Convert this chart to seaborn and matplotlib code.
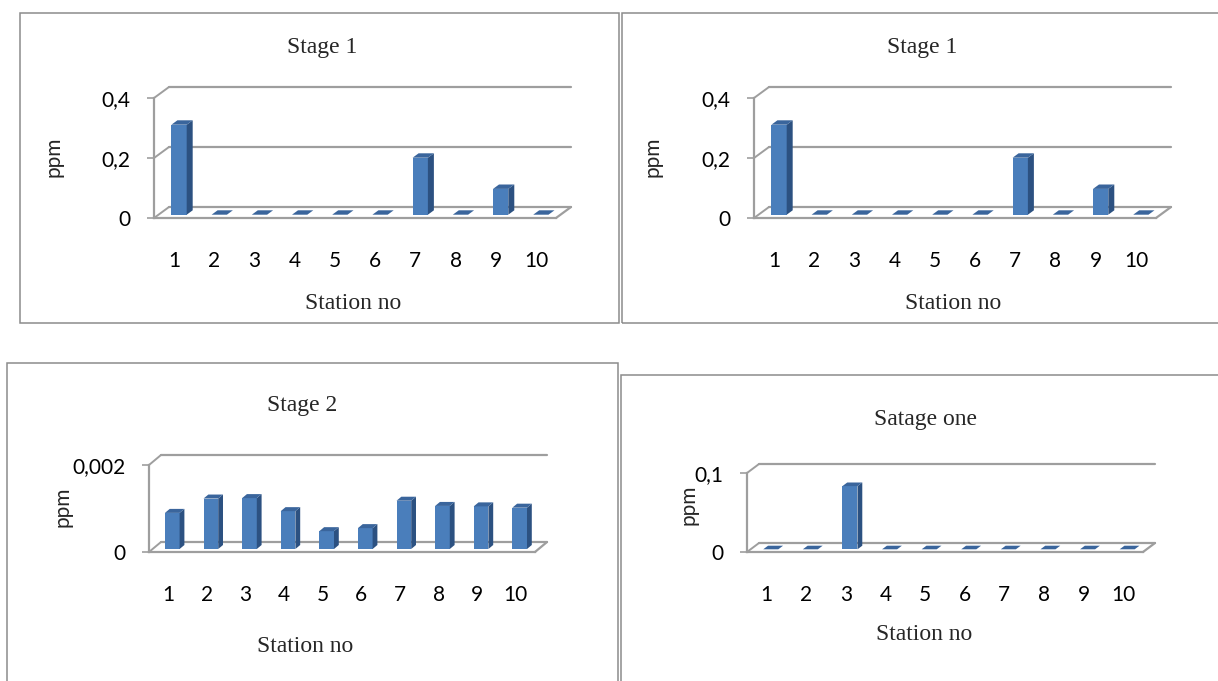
import matplotlib
matplotlib.use("Agg")
import matplotlib.pyplot as plt
from matplotlib.patches import Polygon, Rectangle
import pandas as pd
import seaborn as sns

# data
stations = ["1", "2", "3", "4", "5", "6", "7", "8", "9", "10"]
stage1_ppm = [0.30, 0, 0, 0, 0, 0, 0.19, 0, 0.086, 0]
stage2_ppm = [0.00083, 0.00116, 0.00117, 0.00087, 0.00041,
              0.00048, 0.00111, 0.00099, 0.00098, 0.00095]
satage_one_ppm = [0, 0, 0.08, 0, 0, 0, 0, 0, 0, 0]

stage1_ticks = [0, 0.2, 0.4]
stage1_ticklabels = ["0", "0,2", "0,4"]
stage2_ticks = [0, 0.002]
stage2_ticklabels = ["0", "0,002"]
satage_ticks = [0, 0.1]
satage_ticklabels = ["0", "0,1"]

W, H = 1218, 681
GRAY = "#9e9e9e"
BORDER = "#8c8c8c"
FRONT = "#4a7ebb"
SIDE = "#2c5181"
TOP = "#3a659c"
SERIF = "Liberation Serif"

sns.set_theme(style="white")
plt.rcParams["font.family"] = ["Lato", "DejaVu Sans"]

fig = plt.figure(figsize=(W / 100, H / 100), dpi=100)
fig.patch.set_facecolor("white")


def border(x0, y0, x1, y1):
    fig.add_artist(Rectangle((x0 / W, 1 - y1 / H), (x1 - x0) / W, (y1 - y0) / H,
                             transform=fig.transFigure, fill=False,
                             ec=BORDER, lw=1.1, clip_on=False))


def panel(values, ticks, ticklabels, title, box, depth, title_xy, xlabel_xy, ylabel_xy):
    x0, x1, y0, ytop = box
    ax = fig.add_axes([x0 / W, 1 - y0 / H, (x1 - x0) / W, (y0 - ytop) / H])
    ax.patch.set_alpha(0)
    df = pd.DataFrame({"station": stations, "ppm": values})
    sns.barplot(data=df, x="station", y="ppm", ax=ax, color=FRONT, saturation=1,
                width=0.38, errorbar=None, edgecolor="none", zorder=3)
    ymax = ticks[-1]
    ax.set_xlim(-0.5, 9.5)
    ax.set_ylim(0, ymax)

    # pixel depth -> data units
    sx = 10 / (x1 - x0)
    sy = ymax / (y0 - ytop)
    ddx, ddy = depth[0] * sx, depth[1] * sy

    # walls and floor
    for t in ticks:
        ax.plot([-0.5, -0.5 + ddx], [t, t + ddy], color=GRAY, lw=1.4, clip_on=False, zorder=1)
        ax.plot([-0.5 + ddx, 9.5 + ddx], [t + ddy, t + ddy], color=GRAY, lw=1.6,
                clip_on=False, zorder=1)
    ax.plot([9.5, 9.5 + ddx], [0, ddy], color=GRAY, lw=1.6, clip_on=False, zorder=1)

    # 3d bars
    ox, oy = 0.33 * ddx, 0.3 * ddy
    bx, by = 0.4 * ddx, 0.4 * ddy
    for p in list(ax.patches):
        x, w, h = p.get_x(), p.get_width(), p.get_height()
        p.set_x(x + ox)
        p.set_y(oy)
        xr = x + w + ox
        ax.add_patch(Polygon([(xr, oy), (xr, oy + h), (xr + bx, oy + h + by), (xr + bx, oy + by)],
                             closed=True, fc=SIDE, ec="none", zorder=3, clip_on=False))
        ax.add_patch(Polygon([(x + ox, oy + h), (xr, oy + h), (xr + bx, oy + h + by),
                              (x + ox + bx, oy + h + by)],
                             closed=True, fc=TOP, ec="none", zorder=3, clip_on=False))

    sns.despine(ax=ax, top=True, right=True)
    for side in ("left", "bottom"):
        ax.spines[side].set_color(GRAY)
        ax.spines[side].set_linewidth(1.6)
    ax.set_yticks(ticks, ticklabels)
    ax.tick_params(axis="y", left=True, length=5, width=1.2, color=GRAY, pad=12,
                   labelsize=15, labelcolor="black")
    ax.tick_params(axis="x", bottom=False, length=0, pad=24, labelsize=15, labelcolor="black")

    def to_ax(px, py):
        return (px - x0) / (x1 - x0), (y0 - py) / (y0 - ytop)

    ax.text(*to_ax(*title_xy), title, transform=ax.transAxes, ha="center", va="center",
            fontsize=17, family=SERIF)
    ax.set_xlabel("Station no", fontsize=17, family=SERIF)
    ax.xaxis.set_label_coords(*to_ax(*xlabel_xy))
    ax.xaxis.label.set_va("center")
    ax.set_ylabel("ppm", fontsize=15)
    ax.yaxis.set_label_coords(*to_ax(*ylabel_xy))
    ax.yaxis.label.set_va("center")
    return ax


border(20, 13, 619, 323)
border(622, 13, 1230, 323)
border(7, 363, 618, 700)
border(621, 375, 1230, 700)

panel(stage1_ppm, stage1_ticks, stage1_ticklabels, "Stage 1",
      (154, 556, 218, 98), (15, 11), (322, 48), (353, 303), (53, 157))
panel(stage1_ppm, stage1_ticks, stage1_ticklabels, "Stage 1",
      (754, 1156, 218, 98), (15, 11), (922, 48), (953, 303), (653, 157))
panel(stage2_ppm, stage2_ticks, stage2_ticklabels, "Stage 2",
      (149, 535, 552, 465), (12, 10), (302, 405), (305, 646), (62, 507))
panel(satage_one_ppm, satage_ticks, satage_ticklabels, "Satage one",
      (747, 1143, 552, 473), (12, 9), (926, 419), (924, 635), (688, 505))

fig.savefig("out.png", dpi=100)
